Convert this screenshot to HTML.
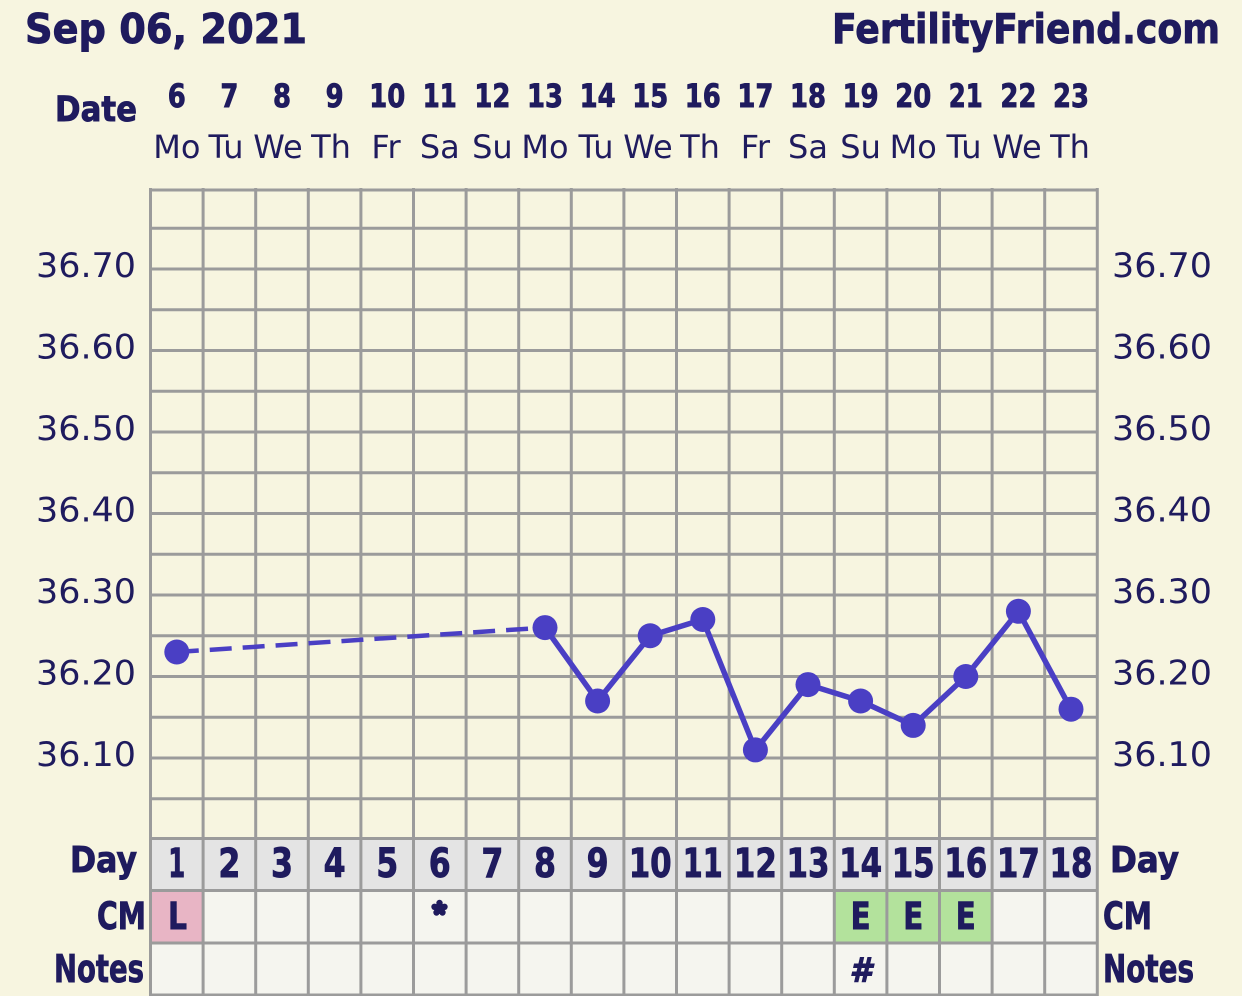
<!DOCTYPE html>
<html>
<head>
<meta charset="utf-8">
<style>
  html,body{margin:0;padding:0;background:#f7f5e0;}
  svg{display:block;}
  text{font-family:"DejaVu Sans","Liberation Sans",sans-serif;fill:#1f1b5e;}
  .b{font-weight:bold;stroke:#1f1b5e;stroke-width:0.9;}
</style>
</head>
<body>
<svg width="1242" height="996" viewBox="0 0 1242 996" xmlns="http://www.w3.org/2000/svg">
  <rect x="0" y="0" width="1242" height="996" fill="#f7f5e0"/>

  <!-- Header -->
  <text class="b" x="25" y="43" font-size="41" textLength="282" lengthAdjust="spacingAndGlyphs">Sep 06, 2021</text>
  <text class="b" x="832" y="43" font-size="41" textLength="388" lengthAdjust="spacingAndGlyphs">FertilityFriend.com</text>
  <text class="b" x="55" y="121" font-size="35" textLength="82" lengthAdjust="spacingAndGlyphs">Date</text>

  <!-- Date numbers -->
  <g class="b" font-size="32" text-anchor="middle" font-weight="bold">
    <text x="176.8" y="107" textLength="18" lengthAdjust="spacingAndGlyphs">6</text>
    <text x="229.4" y="107" textLength="18" lengthAdjust="spacingAndGlyphs">7</text>
    <text x="282.0" y="107" textLength="18" lengthAdjust="spacingAndGlyphs">8</text>
    <text x="334.6" y="107" textLength="18" lengthAdjust="spacingAndGlyphs">9</text>
    <text x="387.2" y="107" textLength="36" lengthAdjust="spacingAndGlyphs">10</text>
    <text x="439.8" y="107" textLength="34" lengthAdjust="spacingAndGlyphs">11</text>
    <text x="492.4" y="107" textLength="36" lengthAdjust="spacingAndGlyphs">12</text>
    <text x="545.0" y="107" textLength="36" lengthAdjust="spacingAndGlyphs">13</text>
    <text x="597.6" y="107" textLength="36" lengthAdjust="spacingAndGlyphs">14</text>
    <text x="650.2" y="107" textLength="36" lengthAdjust="spacingAndGlyphs">15</text>
    <text x="702.8" y="107" textLength="36" lengthAdjust="spacingAndGlyphs">16</text>
    <text x="755.4" y="107" textLength="36" lengthAdjust="spacingAndGlyphs">17</text>
    <text x="808.0" y="107" textLength="36" lengthAdjust="spacingAndGlyphs">18</text>
    <text x="860.6" y="107" textLength="36" lengthAdjust="spacingAndGlyphs">19</text>
    <text x="913.2" y="107" textLength="36" lengthAdjust="spacingAndGlyphs">20</text>
    <text x="965.8" y="107" textLength="34" lengthAdjust="spacingAndGlyphs">21</text>
    <text x="1018.4" y="107" textLength="36" lengthAdjust="spacingAndGlyphs">22</text>
    <text x="1071.0" y="107" textLength="36" lengthAdjust="spacingAndGlyphs">23</text>
  </g>

  <!-- Day names -->
  <g font-size="32" text-anchor="middle">
    <text x="176.8" y="158">Mo</text>
    <text x="226" y="158">Tu</text>
    <text x="278" y="158">We</text>
    <text x="331" y="158">Th</text>
    <text x="386" y="158">Fr</text>
    <text x="439.8" y="158">Sa</text>
    <text x="492.4" y="158">Su</text>
    <text x="545.0" y="158">Mo</text>
    <text x="596" y="158">Tu</text>
    <text x="648" y="158">We</text>
    <text x="700" y="158">Th</text>
    <text x="755.4" y="158">Fr</text>
    <text x="808.0" y="158">Sa</text>
    <text x="860.6" y="158">Su</text>
    <text x="913.2" y="158">Mo</text>
    <text x="964" y="158">Tu</text>
    <text x="1017" y="158">We</text>
    <text x="1070" y="158">Th</text>
  </g>

  <!-- Bottom row backgrounds -->
  <rect x="150.5" y="838" width="947" height="52" fill="#e4e4e4"/>
  <rect x="150.5" y="890" width="947" height="106" fill="#f5f5ef"/>
  <rect x="150.5" y="890" width="52.6" height="53" fill="#e8b5c5"/>
  <rect x="834.3" y="890" width="157.8" height="53" fill="#b3e29c"/>

  <!-- Horizontal grid lines -->
  <g stroke="#9b9b9b" stroke-width="3">
    <line x1="152" y1="190" x2="1096" y2="190"/>
    <line x1="152" y1="228.25" x2="1096" y2="228.25"/>
    <line x1="152" y1="269" x2="1096" y2="269"/>
    <line x1="152" y1="309.75" x2="1096" y2="309.75"/>
    <line x1="152" y1="350.5" x2="1096" y2="350.5"/>
    <line x1="152" y1="391.25" x2="1096" y2="391.25"/>
    <line x1="152" y1="432" x2="1096" y2="432"/>
    <line x1="152" y1="472.75" x2="1096" y2="472.75"/>
    <line x1="152" y1="513.5" x2="1096" y2="513.5"/>
    <line x1="152" y1="554.25" x2="1096" y2="554.25"/>
    <line x1="152" y1="595" x2="1096" y2="595"/>
    <line x1="152" y1="635.75" x2="1096" y2="635.75"/>
    <line x1="152" y1="676.5" x2="1096" y2="676.5"/>
    <line x1="152" y1="717.25" x2="1096" y2="717.25"/>
    <line x1="152" y1="758" x2="1096" y2="758"/>
    <line x1="152" y1="798.75" x2="1096" y2="798.75"/>
    <line x1="150" y1="838.5" x2="1098" y2="838.5"/>
    <line x1="150" y1="890.5" x2="1098" y2="890.5"/>
    <line x1="150" y1="943" x2="1098" y2="943"/>
    <line x1="150" y1="995" x2="1098" y2="995"/>
  </g>

  <!-- Vertical grid lines -->
  <g stroke="#9b9b9b" stroke-width="3">
    <line x1="150.5" y1="188" x2="150.5" y2="996"/>
    <line x1="203.1" y1="188" x2="203.1" y2="996"/>
    <line x1="255.7" y1="188" x2="255.7" y2="996"/>
    <line x1="308.3" y1="188" x2="308.3" y2="996"/>
    <line x1="360.9" y1="188" x2="360.9" y2="996"/>
    <line x1="413.5" y1="188" x2="413.5" y2="996"/>
    <line x1="466.1" y1="188" x2="466.1" y2="996"/>
    <line x1="518.7" y1="188" x2="518.7" y2="996"/>
    <line x1="571.3" y1="188" x2="571.3" y2="996"/>
    <line x1="623.9" y1="188" x2="623.9" y2="996"/>
    <line x1="676.5" y1="188" x2="676.5" y2="996"/>
    <line x1="729.1" y1="188" x2="729.1" y2="996"/>
    <line x1="781.7" y1="188" x2="781.7" y2="996"/>
    <line x1="834.3" y1="188" x2="834.3" y2="996"/>
    <line x1="886.9" y1="188" x2="886.9" y2="996"/>
    <line x1="939.5" y1="188" x2="939.5" y2="996"/>
    <line x1="992.1" y1="188" x2="992.1" y2="996"/>
    <line x1="1044.7" y1="188" x2="1044.7" y2="996"/>
    <line x1="1097.3" y1="188" x2="1097.3" y2="996"/>
  </g>

  <!-- Temperature labels -->
  <g font-size="34">
    <g text-anchor="end">
      <text x="136" y="277" textLength="100" lengthAdjust="spacingAndGlyphs">36.70</text>
      <text x="136" y="358.5" textLength="100" lengthAdjust="spacingAndGlyphs">36.60</text>
      <text x="136" y="440" textLength="100" lengthAdjust="spacingAndGlyphs">36.50</text>
      <text x="136" y="521.5" textLength="100" lengthAdjust="spacingAndGlyphs">36.40</text>
      <text x="136" y="603" textLength="100" lengthAdjust="spacingAndGlyphs">36.30</text>
      <text x="136" y="684.5" textLength="100" lengthAdjust="spacingAndGlyphs">36.20</text>
      <text x="136" y="766" textLength="100" lengthAdjust="spacingAndGlyphs">36.10</text>
    </g>
    <text x="1112" y="277" textLength="100" lengthAdjust="spacingAndGlyphs">36.70</text>
    <text x="1112" y="358.5" textLength="100" lengthAdjust="spacingAndGlyphs">36.60</text>
    <text x="1112" y="440" textLength="100" lengthAdjust="spacingAndGlyphs">36.50</text>
    <text x="1112" y="521.5" textLength="100" lengthAdjust="spacingAndGlyphs">36.40</text>
    <text x="1112" y="603" textLength="100" lengthAdjust="spacingAndGlyphs">36.30</text>
    <text x="1112" y="684.5" textLength="100" lengthAdjust="spacingAndGlyphs">36.20</text>
    <text x="1112" y="766" textLength="100" lengthAdjust="spacingAndGlyphs">36.10</text>
  </g>

  <!-- Row labels -->
  <g class="b" font-weight="bold">
    <text x="70" y="872" font-size="36" textLength="67" lengthAdjust="spacingAndGlyphs">Day</text>
    <text x="1110" y="872" font-size="36" textLength="69" lengthAdjust="spacingAndGlyphs">Day</text>
    <text x="97" y="929" font-size="37" textLength="49" lengthAdjust="spacingAndGlyphs">CM</text>
    <text x="1103" y="929" font-size="37" textLength="49" lengthAdjust="spacingAndGlyphs">CM</text>
    <text x="54" y="982" font-size="38" textLength="90" lengthAdjust="spacingAndGlyphs">Notes</text>
    <text x="1103" y="982" font-size="38" textLength="91" lengthAdjust="spacingAndGlyphs">Notes</text>
  </g>

  <!-- Day numbers -->
  <g class="b" font-size="40" font-weight="bold" text-anchor="middle">
    <text x="176.8" y="877" textLength="17" lengthAdjust="spacingAndGlyphs">1</text>
    <text x="229.4" y="877" textLength="22" lengthAdjust="spacingAndGlyphs">2</text>
    <text x="282.0" y="877" textLength="22" lengthAdjust="spacingAndGlyphs">3</text>
    <text x="334.6" y="877" textLength="22" lengthAdjust="spacingAndGlyphs">4</text>
    <text x="387.2" y="877" textLength="22" lengthAdjust="spacingAndGlyphs">5</text>
    <text x="439.8" y="877" textLength="22" lengthAdjust="spacingAndGlyphs">6</text>
    <text x="492.4" y="877" textLength="22" lengthAdjust="spacingAndGlyphs">7</text>
    <text x="545.0" y="877" textLength="22" lengthAdjust="spacingAndGlyphs">8</text>
    <text x="597.6" y="877" textLength="22" lengthAdjust="spacingAndGlyphs">9</text>
    <text x="650.2" y="877" textLength="43" lengthAdjust="spacingAndGlyphs">10</text>
    <text x="702.8" y="877" textLength="40" lengthAdjust="spacingAndGlyphs">11</text>
    <text x="755.4" y="877" textLength="43" lengthAdjust="spacingAndGlyphs">12</text>
    <text x="808.0" y="877" textLength="43" lengthAdjust="spacingAndGlyphs">13</text>
    <text x="860.6" y="877" textLength="43" lengthAdjust="spacingAndGlyphs">14</text>
    <text x="913.2" y="877" textLength="43" lengthAdjust="spacingAndGlyphs">15</text>
    <text x="965.8" y="877" textLength="43" lengthAdjust="spacingAndGlyphs">16</text>
    <text x="1018.4" y="877" textLength="43" lengthAdjust="spacingAndGlyphs">17</text>
    <text x="1071.0" y="877" textLength="43" lengthAdjust="spacingAndGlyphs">18</text>
  </g>

  <!-- CM entries -->
  <g class="b" font-size="37" font-weight="bold" text-anchor="middle">
    <text x="177.5" y="929" textLength="19" lengthAdjust="spacingAndGlyphs">L</text>
    <text x="860.6" y="929" textLength="20" lengthAdjust="spacingAndGlyphs">E</text>
    <text x="913.2" y="929" textLength="20" lengthAdjust="spacingAndGlyphs">E</text>
    <text x="965.8" y="929" textLength="20" lengthAdjust="spacingAndGlyphs">E</text>
    <text x="860.6" y="982" font-size="34" font-style="italic" textLength="22" lengthAdjust="spacingAndGlyphs">#</text>
  </g>
  <g fill="#1f1b5e">
    <circle cx="439.5" cy="908.5" r="5.5"/>
    <circle cx="439.5" cy="903" r="3.2"/>
    <circle cx="434.5" cy="906.8" r="3.2"/>
    <circle cx="444.5" cy="906.8" r="3.2"/>
    <circle cx="436.5" cy="912.5" r="3.2"/>
    <circle cx="442.5" cy="912.5" r="3.2"/>
  </g>

  <!-- Data -->
  <line x1="176.8" y1="652" x2="545" y2="627.6" stroke="#4a3fc4" stroke-width="4.5" stroke-dasharray="22 11"/>
  <polyline fill="none" stroke="#4a3fc4" stroke-width="5.5" stroke-linejoin="round"
    points="545,627.6 597.6,701 650.2,635.75 702.8,619.5 755.4,749.9 808,684.6 860.6,701 913.2,725.4 965.8,676.5 1018.4,611.3 1071,709.2"/>
  <g fill="#4a3fc4">
    <circle cx="176.8" cy="652" r="12.5"/>
    <circle cx="545" cy="627.6" r="12.5"/>
    <circle cx="597.6" cy="701" r="12.5"/>
    <circle cx="650.2" cy="635.75" r="12.5"/>
    <circle cx="702.8" cy="619.5" r="12.5"/>
    <circle cx="755.4" cy="749.9" r="12.5"/>
    <circle cx="808" cy="684.6" r="12.5"/>
    <circle cx="860.6" cy="701" r="12.5"/>
    <circle cx="913.2" cy="725.4" r="12.5"/>
    <circle cx="965.8" cy="676.5" r="12.5"/>
    <circle cx="1018.4" cy="611.3" r="12.5"/>
    <circle cx="1071" cy="709.2" r="12.5"/>
  </g>
</svg>
</body>
</html>
